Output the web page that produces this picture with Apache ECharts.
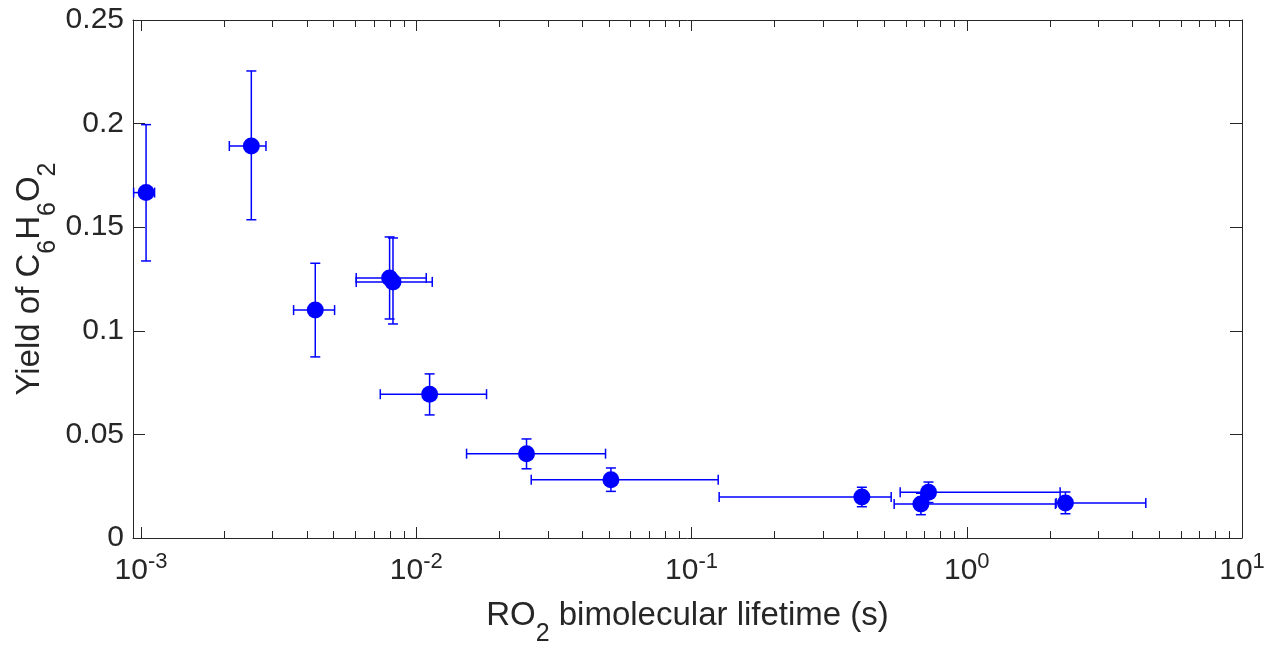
<!DOCTYPE html>
<html>
<head>
<meta charset="utf-8">
<script src="https://cdn.jsdelivr.net/npm/echarts@6/dist/echarts.min.js"></script>
<style>
html,body{margin:0;padding:0;background:#fff;}
#chart{width:1267px;height:645px;}
</style>
</head>
<body>
<div id="chart"></div>
<script>
// RO2 bimolecular lifetime (s), centre values
const lifetime     = [1.043e-3, 2.516e-3, 4.296e-3, 8.00e-3, 8.23e-3, 0.01118, 0.02515, 0.05095, 0.4158, 0.6814, 0.7261, 2.283];
const lifetimeLow  = [9.40e-4, 2.093e-3, 3.583e-3, 6.05e-3, 6.05e-3, 7.40e-3, 0.01523, 0.02616, 0.1260, 0.5448, 0.5729, 2.112];
const lifetimeHigh = [1.12e-3, 2.844e-3, 5.049e-3, 0.01087, 0.01143, 0.0180, 0.04871, 0.1250, 0.5314, 2.100, 2.184, 4.472];
// Yield of C6H6O2
const yieldVal  = [0.1667, 0.1892, 0.1100, 0.1255, 0.1236, 0.0694, 0.0407, 0.0281, 0.0198, 0.0164, 0.0221, 0.0169];
const yieldLow  = [0.1337, 0.1536, 0.0874, 0.1057, 0.1033, 0.0594, 0.0334, 0.0225, 0.0151, 0.01125, 0.0171, 0.0117];
const yieldHigh = [0.1995, 0.2254, 0.1326, 0.1453, 0.1448, 0.0792, 0.0478, 0.0338, 0.0245, 0.0216, 0.0270, 0.0222];
// axis ranges / ticks
const xRange = [9.35e-4, 10];
const yRange = [0, 0.25];
const yTickStep = 0.05;
const minorTickValues = [];
[1e-3, 1e-2, 1e-1, 1].forEach(function (d) { for (let k = 2; k <= 9; k++) minorTickValues.push(+(k * d).toPrecision(3)); });

const FONT = '"Liberation Sans", Arial, Helvetica, sans-serif';
const AX = '#262626';
const BLUE = '#0000ff';

const errData = lifetime.map(function (x, i) {
  return [x, yieldVal[i], lifetimeLow[i], lifetimeHigh[i], yieldLow[i], yieldHigh[i]];
});
const ptData = lifetime.map(function (x, i) { return [x, yieldVal[i]]; });

function expLabel(v) {
  const e = Math.log10(v);
  const r = Math.round(e);
  if (Math.abs(e - r) > 1e-6) return '';
  return '{b|10}{s|' + r + '}';
}

const chart = echarts.init(document.getElementById('chart'), null, {renderer: 'canvas'});
const option = {
  backgroundColor: '#ffffff',
  animation: false,
  grid: {left: 133, right: 25, top: 20, bottom: 107, containLabel: false, outerBoundsMode: 'none'},
  xAxis: [{
    type: 'log', logBase: 10, min: xRange[0], max: xRange[1], position: 'bottom',
    axisLine: {show: true, onZero: false, lineStyle: {color: AX, width: 1}},
    axisTick: {show: true, inside: true, length: 11, lineStyle: {color: AX, width: 1}},
    splitLine: {show: false},
    axisLabel: {
      margin: 13, color: AX, fontFamily: FONT, formatter: expLabel,
      rich: {
        b: {fontSize: 30, lineHeight: 30, padding: [5, 0, 0, 0], verticalAlign: 'top', fontFamily: FONT, color: AX},
        s: {fontSize: 22, lineHeight: 22, verticalAlign: 'top', fontFamily: FONT, color: AX}
      }
    },
    name: 'RO{sub|2} bimolecular lifetime (s)',
    nameLocation: 'middle', nameGap: 61, nameMoveOverlap: false,
    nameTextStyle: {
      color: AX, fontFamily: FONT, fontSize: 33,
      rich: {
        sub: {fontSize: 25, lineHeight: 25, padding: [23, 0, 0, 0], verticalAlign: 'top', fontFamily: FONT, color: AX}
      }
    }
  }, {
    type: 'log', logBase: 10, min: xRange[0], max: xRange[1], position: 'top',
    axisLine: {show: true, onZero: false, lineStyle: {color: AX, width: 1}},
    axisTick: {show: true, inside: true, length: 11, lineStyle: {color: AX, width: 1}},
    axisLabel: {show: false}, splitLine: {show: false}
  }],
  yAxis: [{
    type: 'value', min: yRange[0], max: yRange[1], interval: yTickStep, position: 'left',
    axisLine: {show: true, onZero: false, lineStyle: {color: AX, width: 1}},
    axisTick: {show: true, inside: true, length: 12, lineStyle: {color: AX, width: 1}},
    splitLine: {show: false},
    axisLabel: {margin: 9, color: AX, fontFamily: FONT, fontSize: 30},
    name: 'Yield of C{sub|6}H{sub|6}O{sub|2}',
    nameLocation: 'middle', nameRotate: 90, nameGap: 87, nameMoveOverlap: false,
    nameTextStyle: {
      color: AX, fontFamily: FONT, fontSize: 33,
      rich: {
        sub: {fontSize: 25, lineHeight: 25, padding: [23, 0, 0, 0], verticalAlign: 'top', fontFamily: FONT, color: AX}
      }
    }
  }, {
    type: 'value', min: yRange[0], max: yRange[1], interval: yTickStep, position: 'right',
    axisLine: {show: true, onZero: false, lineStyle: {color: AX, width: 1}},
    axisTick: {show: true, inside: true, length: 12, lineStyle: {color: AX, width: 1}},
    axisLabel: {show: false}, splitLine: {show: false}
  }],
  series: [{
    type: 'custom', name: 'minorTicks', xAxisIndex: 0, yAxisIndex: 0, silent: true, z: 1,
    data: minorTickValues.map(function (v) { return [v, yRange[0]]; }),
    encode: {x: 0, y: 1},
    renderItem: function (params, api) {
      const b = api.coord([api.value(0), yRange[0]]);
      const t = api.coord([api.value(0), yRange[1]]);
      const st = {stroke: AX, lineWidth: 1};
      const x = Math.round(b[0]) + 0.5;
      return {type: 'group', children: [
        {type: 'line', shape: {x1: x, y1: b[1], x2: x, y2: b[1] - 7}, style: st},
        {type: 'line', shape: {x1: x, y1: t[1], x2: x, y2: t[1] + 7}, style: st}
      ]};
    }
  }, {
    type: 'custom', name: 'errorbars', xAxisIndex: 0, yAxisIndex: 0, silent: true, z: 3,
    data: errData,
    encode: {x: 0, y: 1},
    renderItem: function (params, api) {
      const c = api.coord([api.value(0), api.value(1)]);
      const xl = api.coord([api.value(2), api.value(1)]);
      const xh = api.coord([api.value(3), api.value(1)]);
      const yl = api.coord([api.value(0), api.value(4)]);
      const yh = api.coord([api.value(0), api.value(5)]);
      const cap = 5;
      const st = {stroke: BLUE, lineWidth: 1.5};
      return {type: 'group', children: [
        {type: 'line', shape: {x1: xl[0], y1: c[1], x2: xh[0], y2: c[1]}, style: st},
        {type: 'line', shape: {x1: xl[0], y1: c[1] - cap, x2: xl[0], y2: c[1] + cap}, style: st},
        {type: 'line', shape: {x1: xh[0], y1: c[1] - cap, x2: xh[0], y2: c[1] + cap}, style: st},
        {type: 'line', shape: {x1: c[0], y1: yl[1], x2: c[0], y2: yh[1]}, style: st},
        {type: 'line', shape: {x1: c[0] - cap, y1: yl[1], x2: c[0] + cap, y2: yl[1]}, style: st},
        {type: 'line', shape: {x1: c[0] - cap, y1: yh[1], x2: c[0] + cap, y2: yh[1]}, style: st}
      ]};
    }
  }, {
    type: 'scatter', name: 'points', xAxisIndex: 0, yAxisIndex: 0, z: 4,
    data: ptData, symbol: 'circle', symbolSize: 17,
    itemStyle: {color: BLUE, opacity: 1}, silent: true
  }]
};
chart.setOption(option);
</script>
</body>
</html>
